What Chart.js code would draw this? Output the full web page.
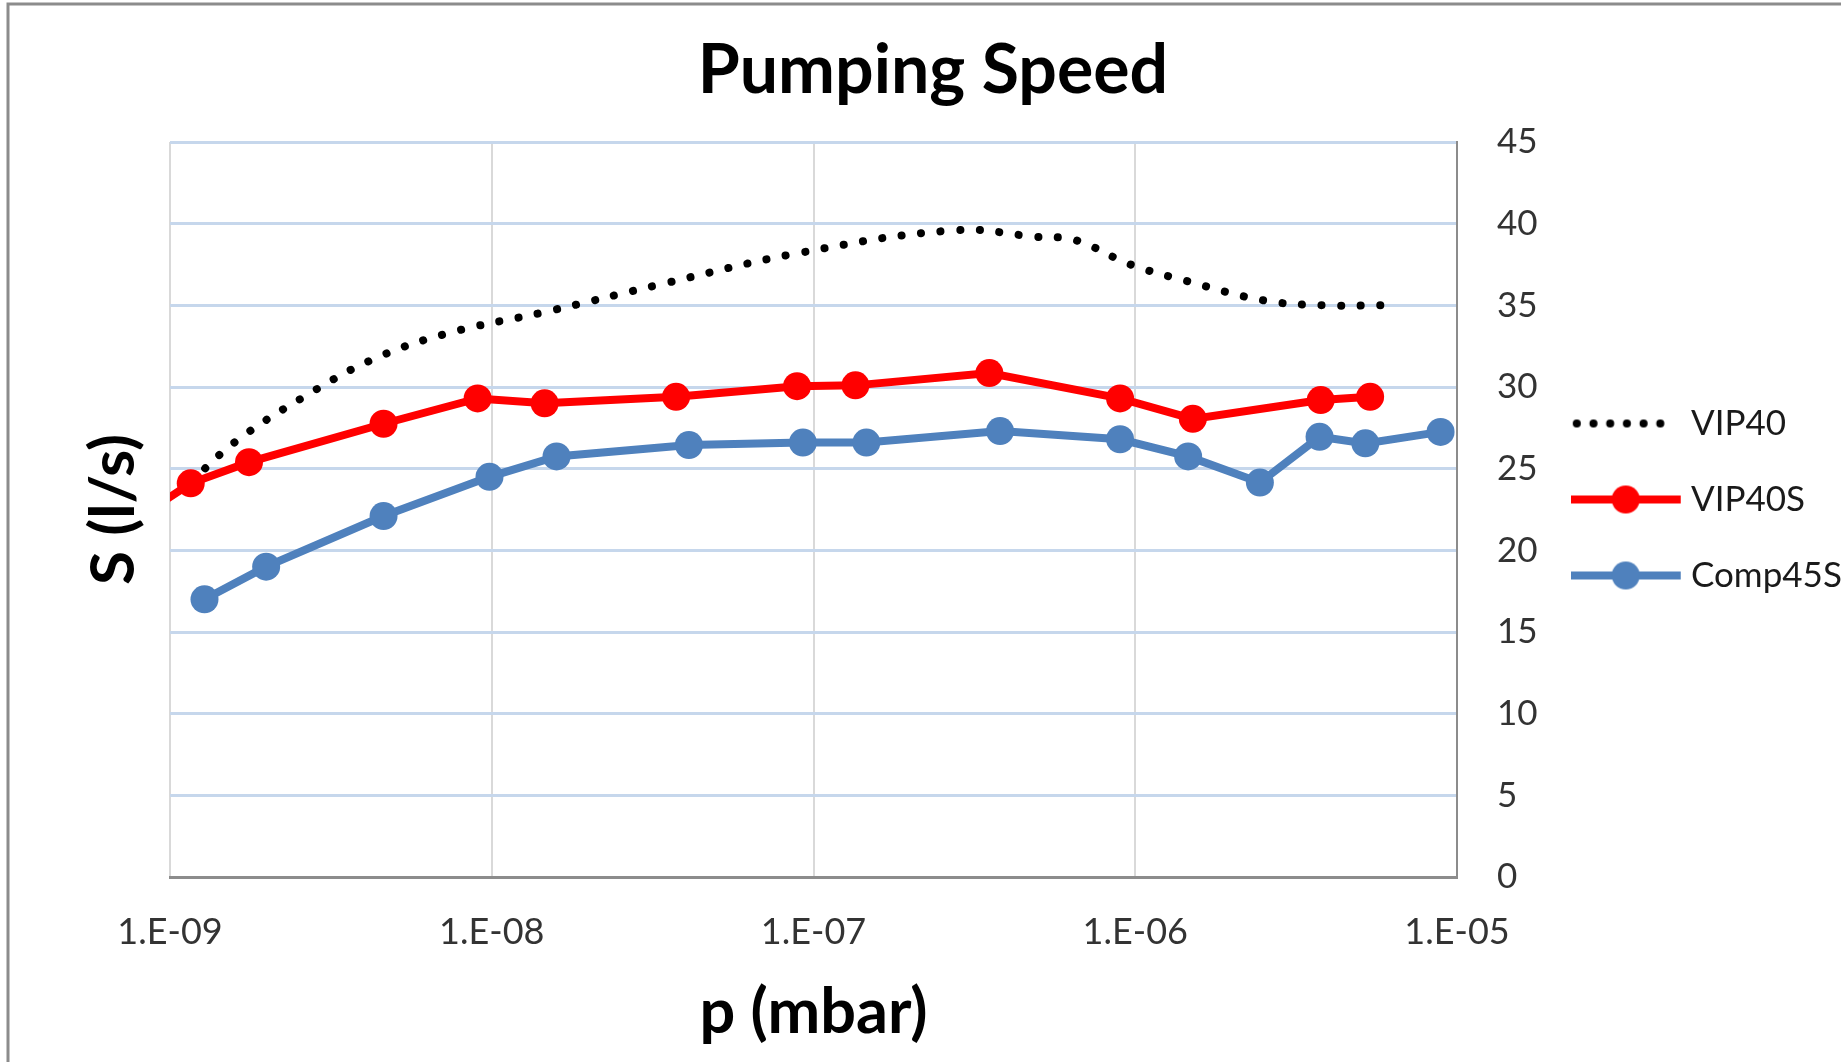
<!DOCTYPE html>
<html>
<head>
<meta charset="utf-8">
<title>Pumping Speed</title>
<script src="https://cdn.jsdelivr.net/npm/chart.js@4/dist/chart.umd.min.js"></script>
<style>
  html, body { margin: 0; padding: 0; background: #fff; overflow: hidden; }
  #wrap { width: 1841px; height: 1062px; overflow: hidden; }
</style>
</head>
<body>
<div id="wrap"><canvas id="speedChart" width="1841" height="1062"></canvas></div>
<script>
// VIP40 (dotted, smoothed, no markers)
const vip40P = [1.16e-9, 1.61e-9, 2.61e-9, 4.28e-9, 7.33e-9, 1.47e-8, 3.37e-8, 8.99e-8,
                2.77e-7, 4.91e-7, 6.49e-7, 9.66e-7, 1.44e-6, 2.51e-6, 3.88e-6, 5.93e-6];
const vip40S = [24.2, 26.7, 29.4, 31.7, 33.3, 34.6, 36.3, 38.2,
                39.6, 39.2, 39.0, 37.5, 36.5, 35.3, 35.0, 35.0];

// VIP40S (red)
const vip40sP = [8e-10, 1.16e-9, 1.76e-9, 4.61e-9, 9.04e-9, 1.46e-8, 3.74e-8, 8.89e-8,
                 1.35e-7, 3.52e-7, 8.97e-7, 1.51e-6, 3.77e-6, 5.37e-6];
const vip40sS = [22.0, 24.1, 25.4, 27.75, 29.3, 29.0, 29.4, 30.05,
                 30.1, 30.85, 29.3, 28.05, 29.2, 29.4];

// Comp45S (blue)
const comp45P = [1.28e-9, 1.99e-9, 4.61e-9, 9.84e-9, 1.59e-8, 4.10e-8, 9.27e-8, 1.46e-7,
                 3.80e-7, 8.97e-7, 1.46e-6, 2.44e-6, 3.74e-6, 5.19e-6, 8.89e-6];
const comp45S = [17.0, 19.0, 22.1, 24.5, 25.75, 26.45, 26.6, 26.6,
                 27.3, 26.8, 25.75, 24.15, 26.95, 26.55, 27.25];

// Axis ticks
const xTicks = [1e-9, 1e-8, 1e-7, 1e-6, 1e-5];
const xTickLabels = ['1.E-09', '1.E-08', '1.E-07', '1.E-06', '1.E-05'];

const RED = '#ff0000';
const BLUE = '#4f81bd';

function toPoints(xs, ys) {
    return xs.map((x, i) => ({ x: x, y: ys[i] }));
}

// Excel-like legend keys: line with marker in the middle
// (canvas is 120 wide, key drawn in its left 110 px)
function makeIcon(color, dotted) {
    const c = document.createElement('canvas');
    c.width = 120;
    c.height = 32;
    const g = c.getContext('2d');
    g.strokeStyle = color;
    g.fillStyle = color;
    g.lineWidth = 8;
    g.beginPath();
    if (dotted) {
        g.lineCap = 'round';
        g.setLineDash([0.1, 16.6]);
        g.moveTo(6, 16);
        g.lineTo(106, 16);
        g.stroke();
    } else {
        g.moveTo(0, 16);
        g.lineTo(110, 16);
        g.stroke();
        g.beginPath();
        g.arc(55, 16, 14, 0, Math.PI * 2);
        g.fill();
    }
    return c;
}
const legendIcons = [makeIcon('#000', true), makeIcon(RED, false), makeIcon(BLUE, false)];

// white background + the outer frame (left and top edges)
const framePlugin = {
    id: 'frame',
    beforeDraw(chart) {
        const ctx = chart.ctx;
        ctx.save();
        ctx.fillStyle = '#fff';
        ctx.fillRect(0, 0, chart.width, chart.height);
        ctx.strokeStyle = '#8c8c8c';
        ctx.lineWidth = 3;
        ctx.beginPath();
        ctx.moveTo(8, chart.height);
        ctx.lineTo(8, 4);
        ctx.lineTo(chart.width, 4);
        ctx.stroke();
        ctx.restore();
    }
};

const ctx = document.getElementById('speedChart').getContext('2d');
window.speedChart = new Chart(ctx, {
    type: 'line',
    data: {
        datasets: [{
            label: 'VIP40',
            data: toPoints(vip40P, vip40S),
            borderColor: '#000',
            borderWidth: 8,
            borderDash: [0.1, 19.5],
            borderCapStyle: 'round',
            tension: 0.4,
            pointRadius: 0,
            yAxisID: 'y',
            order: 3
        }, {
            label: 'VIP40S',
            data: toPoints(vip40sP, vip40sS),
            borderColor: RED,
            backgroundColor: RED,
            borderWidth: 8,
            tension: 0,
            pointRadius: 14,
            pointBorderWidth: 0,
            pointBackgroundColor: RED,
            yAxisID: 'y',
            order: 2
        }, {
            label: 'Comp45S',
            data: toPoints(comp45P, comp45S),
            borderColor: BLUE,
            backgroundColor: BLUE,
            borderWidth: 8,
            tension: 0,
            pointRadius: 14,
            pointBorderWidth: 0,
            pointBackgroundColor: BLUE,
            yAxisID: 'y',
            order: 1
        }]
    },
    options: {
        responsive: false,
        devicePixelRatio: 1,
        animation: false,
        events: [],
        layout: { padding: { left: 25, right: 0, top: 0, bottom: 0 } },
        plugins: {
            title: {
                display: true,
                text: 'Pumping Speed',
                color: '#000',
                font: { family: 'Lato', size: 68, weight: 'bold' },
                padding: { top: 30, bottom: 30.4 }
            },
            legend: {
                display: true,
                position: 'right',
                fullSize: false,
                maxWidth: 294,
                // empty title with negative padding just lifts the items a bit
                title: { display: true, text: '', font: { size: 1 }, padding: { top: -21.2, bottom: 0 } },
                labels: {
                    usePointStyle: true,
                    pointStyleWidth: 85.5,
                    padding: 41,
                    color: '#1a1a1a',
                    font: { family: 'Lato', size: 35 },
                    sort: (a, b) => a.datasetIndex - b.datasetIndex,
                    generateLabels(chart) {
                        const items = Chart.defaults.plugins.legend.labels.generateLabels(chart);
                        items.forEach(it => { it.pointStyle = legendIcons[it.datasetIndex]; });
                        return items;
                    }
                }
            },
            tooltip: { enabled: false }
        },
        scales: {
            x: {
                type: 'logarithmic',
                position: 'bottom',
                min: 1e-9,
                max: 1e-5,
                afterBuildTicks: axis => { axis.ticks = xTicks.map(v => ({ value: v })); },
                afterFit: axis => { axis.height = 185; },
                ticks: {
                    autoSkip: false,
                    maxRotation: 0,
                    padding: 34,
                    color: '#333',
                    font: { family: 'Lato', size: 36 },
                    callback: (value, index) => xTickLabels[index]
                },
                grid: { color: '#d9d9d9', lineWidth: 2, drawTicks: false },
                border: { color: '#8c8c8c', width: 3 },
                title: {
                    display: true,
                    text: 'p (mbar)',
                    color: '#000',
                    font: { family: 'Lato', size: 63, weight: 'bold' },
                    padding: { top: 0, bottom: 12 }
                }
            },
            y: {
                type: 'linear',
                position: 'right',
                min: 0,
                max: 45,
                afterFit: axis => { axis.width = 90; },
                ticks: {
                    stepSize: 5,
                    padding: 40,
                    color: '#333',
                    font: { family: 'Lato', size: 35 }
                },
                grid: { color: '#c6d7ec', lineWidth: 3, drawTicks: false },
                border: { color: '#8c8c8c', width: 2 }
            },
            yl: {
                type: 'linear',
                position: 'left',
                afterFit: axis => { axis.width = 145; },
                ticks: { display: false },
                grid: { display: false, drawTicks: false },
                border: { display: false },
                title: {
                    display: true,
                    text: 'S (l/s)',
                    color: '#000',
                    font: { family: 'Lato', size: 62, weight: 'bold' },
                    padding: { top: 51.8, bottom: 0 }
                }
            }
        }
    },
    plugins: [framePlugin]
});
</script>
</body>
</html>
